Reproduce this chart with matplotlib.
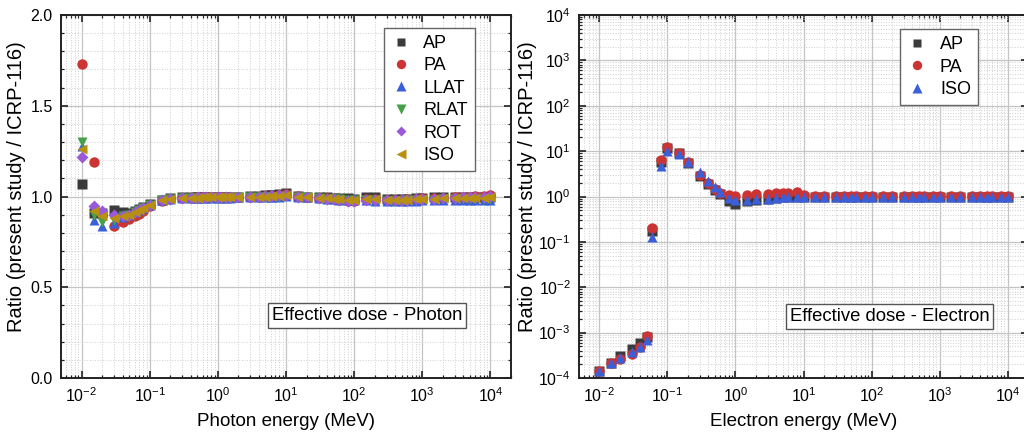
import numpy as np
import matplotlib
matplotlib.use("Agg")
import matplotlib.pyplot as plt
from matplotlib.ticker import LogLocator, MultipleLocator, NullFormatter, LogFormatterSciNotation

plt.rcParams['font.family'] = ['Liberation Sans', 'DejaVu Sans']
plt.rcParams['mathtext.fontset'] = 'custom'
plt.rcParams['mathtext.rm'] = 'Liberation Sans'
plt.rcParams['mathtext.it'] = 'Liberation Sans:italic'
plt.rcParams['axes.unicode_minus'] = False

# photon energies (MeV), ICRP-116 grid
photon_e = [0.01, 0.015, 0.02, 0.03, 0.04, 0.05, 0.06, 0.07, 0.08, 0.1,
            0.15, 0.2, 0.3, 0.4, 0.5, 0.511, 0.6, 0.662, 0.8, 1,
            1.117, 1.33, 1.5, 2, 3, 4, 5, 6, 6.129, 8,
            10, 15, 20, 30, 40, 50, 60, 80, 100, 150,
            200, 300, 400, 500, 600, 800, 1000, 1500, 2000, 3000,
            4000, 5000, 6000, 8000, 10000]

ph_ap = [1.07, 0.91, 0.91, 0.925, 0.915, 0.91, 0.92, 0.93, 0.94, 0.96,
         0.98, 0.99, 0.995, 0.995, 0.995, 0.995, 0.995, 0.995, 0.995, 0.995,
         0.995, 0.995, 0.995, 1.0, 1.005, 1.005, 1.01, 1.01, 1.01, 1.015,
         1.02, 1.005, 1.0, 0.995, 0.995, 0.99, 0.99, 0.99, 0.985, 1.0,
         0.995, 0.985, 0.985, 0.985, 0.985, 0.99, 0.99, 0.995, 0.995, 0.995,
         0.995, 0.995, 1.0, 1.0, 1.0]
ph_pa = [1.73, 1.19, 0.90, 0.835, 0.862, 0.875, 0.89, 0.905, 0.92, 0.945,
         0.975, 0.985, 0.99, 0.99, 0.995, 0.995, 0.995, 0.995, 0.995, 0.995,
         0.995, 0.995, 0.995, 1.0, 1.0, 1.0, 1.005, 1.005, 1.005, 1.01,
         1.015, 1.005, 1.0, 0.99, 0.99, 0.985, 0.98, 0.975, 0.975, 0.985,
         0.985, 0.98, 0.98, 0.98, 0.985, 0.985, 0.99, 0.99, 0.99, 0.995,
         0.995, 1.0, 1.005, 1.005, 1.01]
ph_llat = [1.28, 0.87, 0.835, 0.855, 0.885, 0.9, 0.915, 0.925, 0.935, 0.955,
           0.98, 0.985, 0.99, 0.99, 0.99, 0.99, 0.99, 0.99, 0.99, 0.99,
           0.99, 0.99, 0.99, 0.995, 0.995, 1.0, 1.0, 1.0, 1.0, 1.0,
           1.005, 0.995, 0.995, 0.99, 0.985, 0.985, 0.98, 0.98, 0.98, 0.98,
           0.975, 0.975, 0.975, 0.975, 0.975, 0.975, 0.98, 0.98, 0.98, 0.98,
           0.98, 0.98, 0.98, 0.98, 0.98]
ph_rlat = [1.30, 0.90, 0.86, 0.87, 0.89, 0.9, 0.915, 0.925, 0.935, 0.955,
           0.98, 0.985, 0.99, 0.99, 0.99, 0.99, 0.99, 0.99, 0.99, 0.99,
           0.99, 0.99, 0.99, 0.995, 0.995, 1.0, 1.0, 1.0, 1.0, 1.0,
           1.005, 0.995, 0.995, 0.99, 0.985, 0.985, 0.985, 0.98, 0.98, 0.98,
           0.98, 0.975, 0.975, 0.975, 0.98, 0.98, 0.98, 0.98, 0.985, 0.985,
           0.985, 0.985, 0.985, 0.985, 0.985]
ph_rot = [1.22, 0.945, 0.92, 0.90, 0.895, 0.9, 0.915, 0.925, 0.935, 0.955,
          0.98, 0.985, 0.99, 0.99, 0.99, 0.995, 0.995, 0.995, 0.995, 0.995,
          0.995, 0.995, 0.995, 0.995, 1.0, 1.0, 1.005, 1.005, 1.005, 1.01,
          1.01, 1.0, 0.995, 0.99, 0.985, 0.985, 0.98, 0.975, 0.975, 0.98,
          0.98, 0.98, 0.98, 0.98, 0.98, 0.985, 0.985, 0.985, 0.99, 0.99,
          0.995, 0.995, 1.0, 1.0, 1.005]
ph_iso = [1.26, 0.92, 0.89, 0.88, 0.89, 0.9, 0.915, 0.925, 0.935, 0.955,
          0.98, 0.985, 0.99, 0.99, 0.99, 0.99, 0.995, 0.995, 0.995, 0.995,
          0.995, 0.995, 0.995, 0.995, 1.0, 1.0, 1.0, 1.005, 1.005, 1.005,
          1.01, 1.0, 0.995, 0.99, 0.99, 0.985, 0.985, 0.98, 0.98, 0.985,
          0.985, 0.98, 0.98, 0.98, 0.98, 0.985, 0.985, 0.985, 0.99, 0.99,
          0.99, 0.99, 0.99, 0.99, 0.995]

# electron energies (MeV)
electron_e = [0.01, 0.015, 0.02, 0.03, 0.04, 0.05, 0.06, 0.08, 0.1, 0.15,
              0.2, 0.3, 0.4, 0.5, 0.6, 0.8, 1, 1.5, 2, 3,
              4, 5, 6, 8, 10, 15, 20, 30, 40, 50,
              60, 80, 100, 150, 200, 300, 400, 500, 600, 800,
              1000, 1500, 2000, 3000, 4000, 5000, 6000, 8000, 10000]

el_ap = [1.4e-4, 2.15e-4, 3.1e-4, 4.4e-4, 6.0e-4, 8.2e-4, 0.17, 5.9, 11.6, 9.0,
         5.4, 2.9, 1.9, 1.4, 1.12, 0.78, 0.69, 0.78, 0.84, 0.9,
         0.95, 0.97, 1.0, 1.0, 1.0, 1.0, 1.0, 1.0, 1.0, 1.0,
         1.0, 1.0, 1.0, 1.0, 1.0, 1.0, 1.0, 1.0, 1.0, 1.0,
         1.0, 1.0, 1.0, 1.0, 1.0, 1.0, 1.0, 1.0, 1.0]
el_pa = [1.4e-4, 2.15e-4, 2.6e-4, 3.35e-4, 4.9e-4, 8.4e-4, 0.2, 6.4, 12.6, 9.3,
         5.9, 3.0, 2.0, 1.5, 1.22, 1.09, 1.03, 1.08, 1.12, 1.12,
         1.17, 1.18, 1.18, 1.25, 1.1, 1.05, 1.05, 1.03, 1.02, 1.02,
         1.02, 1.02, 1.02, 1.02, 1.02, 1.02, 1.02, 1.02, 1.02, 1.02,
         1.02, 1.02, 1.02, 1.02, 1.02, 1.02, 1.02, 1.02, 1.02]
el_iso = [1.4e-4, 2.15e-4, 2.7e-4, 3.8e-4, 4.9e-4, 6.9e-4, 0.128, 4.8, 10.0, 8.7,
          5.7, 3.4, 2.2, 1.6, 1.25, 0.92, 0.84, 0.84, 0.87, 0.9,
          0.95, 0.97, 0.97, 1.0, 1.0, 1.0, 1.0, 1.0, 1.0, 1.0,
          1.0, 1.0, 1.0, 1.0, 1.0, 1.0, 1.0, 1.0, 1.0, 1.0,
          1.0, 1.0, 1.0, 1.0, 1.0, 1.0, 1.0, 1.0, 1.0]

x_ticks = [1e-2, 1e-1, 1e0, 1e1, 1e2, 1e3, 1e4]
el_y_ticks = [1e-4, 1e-3, 1e-2, 1e-1, 1e0, 1e1, 1e2, 1e3, 1e4]

c_ap, c_pa, c_llat, c_rlat, c_rot, c_iso = '#3b3b3b', '#cc3333', '#3a5fd9', '#45a04a', '#9a5ad8', '#b8900f'

fig = plt.figure(figsize=(10.24, 4.33), dpi=100)
ax1 = fig.add_axes([61 / 1024, 55 / 433, 450 / 1024, 363 / 433])
ax2 = fig.add_axes([579 / 1024, 55 / 433, 449 / 1024, 363 / 433])


def style_axis(ax):
    ax.set_xscale('log')
    ax.set_xlim(5e-3, 2e4)
    ax.set_xticks(x_ticks)
    ax.xaxis.set_major_formatter(LogFormatterSciNotation())
    ax.xaxis.set_minor_locator(LogLocator(base=10, subs=np.arange(2, 10), numticks=20))
    ax.xaxis.set_minor_formatter(NullFormatter())
    ax.grid(which='major', color='#c4c4c4', lw=0.9, ls='-')
    ax.grid(which='minor', color='#cfcfcf', lw=0.7, ls=':')
    ax.set_axisbelow(True)
    ax.tick_params(which='both', direction='in', top=True, right=True, labelsize=11.5, color='#222222')
    ax.tick_params(which='major', length=5, width=1.2, pad=6)
    ax.tick_params(which='minor', length=2.5, width=0.9)
    for s in ax.spines.values():
        s.set_linewidth(1.4)
        s.set_color('#222222')


ms = 7.5
leg_kw = dict(fontsize=13, frameon=True, fancybox=False, edgecolor='#666666', framealpha=1,
              labelspacing=0.3, handletextpad=0.7, handlelength=1.1, borderpad=0.4,
              borderaxespad=0, markerscale=0.9)
box_kw = dict(boxstyle='square,pad=0.22', fc='white', ec='#555555', lw=1.0)

# photon
style_axis(ax1)
ax1.plot(photon_e, ph_ap, 's', color=c_ap, ms=ms - 0.8, mec='none', label='AP')
ax1.plot(photon_e, ph_pa, 'o', color=c_pa, ms=ms, mec='none', label='PA')
ax1.plot(photon_e, ph_llat, '^', color=c_llat, ms=ms, mec='none', label='LLAT')
ax1.plot(photon_e, ph_rlat, 'v', color=c_rlat, ms=ms, mec='none', label='RLAT')
ax1.plot(photon_e, ph_rot, 'D', color=c_rot, ms=ms - 1.3, mec='none', label='ROT')
ax1.plot(photon_e, ph_iso, '<', color=c_iso, ms=ms, mec='none', label='ISO')
ax1.set_ylim(0, 2.0)
ax1.yaxis.set_major_locator(MultipleLocator(0.5))
ax1.yaxis.set_minor_locator(MultipleLocator(0.1))
ax1.set_xlabel('Photon energy (MeV)', fontsize=13.5, labelpad=6)
ax1.set_ylabel('Ratio (present study / ICRP-116)', fontsize=14.5)
ax1.yaxis.set_label_coords(-0.078, 0.5275)
leg1 = ax1.legend(loc='upper right', bbox_to_anchor=(0.92, 0.965), **leg_kw)
leg1.get_frame().set_linewidth(1.0)
ax1.text(0.68, 0.172, 'Effective dose - Photon', transform=ax1.transAxes, fontsize=13.3,
         ha='center', va='center', bbox=box_kw)

# electron
style_axis(ax2)
ax2.set_yscale('log')
ax2.set_ylim(1e-4, 1e4)
ax2.set_yticks(el_y_ticks)
ax2.yaxis.set_major_formatter(LogFormatterSciNotation())
ax2.yaxis.set_minor_locator(LogLocator(base=10, subs=np.arange(2, 10), numticks=20))
ax2.yaxis.set_minor_formatter(NullFormatter())
ax2.plot(electron_e, el_ap, 's', color=c_ap, ms=ms - 0.8, mec='none', label='AP')
ax2.plot(electron_e, el_pa, 'o', color=c_pa, ms=ms, mec='none', label='PA')
ax2.plot(electron_e, el_iso, '^', color=c_llat, ms=ms, mec='none', label='ISO')
ax2.set_xlabel('Electron energy (MeV)', fontsize=13.5, labelpad=6)
ax2.set_ylabel('Ratio (present study / ICRP-116)', fontsize=14.5)
ax2.yaxis.set_label_coords(-0.0935, 0.5275)
leg2 = ax2.legend(loc='upper right', bbox_to_anchor=(0.889, 0.961), **leg_kw)
leg2.get_frame().set_linewidth(1.0)
ax2.text(0.6915, 0.169, 'Effective dose - Electron', transform=ax2.transAxes, fontsize=13.3,
         ha='center', va='center', bbox=box_kw)

fig.savefig('out.png', dpi=100)
